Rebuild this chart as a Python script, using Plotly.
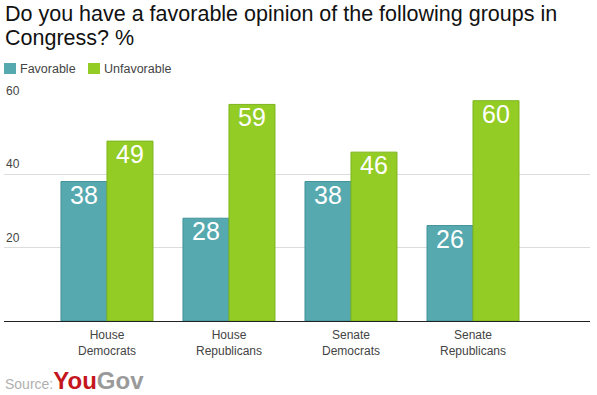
import plotly.graph_objects as go

categories = ["House<br>Democrats", "House<br>Republicans", "Senate<br>Democrats", "Senate<br>Republicans"]
favorable = [38, 28, 38, 26]
unfavorable = [49, 59, 46, 60]
series_names = ["Favorable", "Unfavorable"]
y_ticks = [20, 40, 60]
title_lines = ["Do you have a favorable opinion of the following groups in", "Congress? %"]

teal = "#55A9AF"
green = "#93CC24"
font = "Liberation Sans, Arial, sans-serif"

x = list(range(len(categories)))
bargap = 0.246
half = (1 - bargap) / 4  # centre offset of each bar in a group of two

# plot area geometry in px (for paper-coordinate placement of decorations)
L, R, T, B = 4, 7, 100, 74
W, H = 597, 395
PW, PH = W - L - R, H - T - B


def px(xp):
    return (xp - L) / PW


def py(yp):
    return (H - B - yp) / PH


fig = go.Figure()
fig.add_trace(go.Bar(
    x=x, y=favorable, name=series_names[0], showlegend=False,
    marker=dict(color=teal, line=dict(color="#43939A", width=1)),
))
fig.add_trace(go.Bar(
    x=x, y=unfavorable, name=series_names[1], showlegend=False,
    marker=dict(color=green, line=dict(color="#7DB51C", width=1)),
))

annotations = []
shapes = []
for xi, v in zip(x, favorable):
    annotations.append(dict(x=xi - half, y=v, xref="x", yref="y", text=str(v),
                            showarrow=False, yanchor="top", yshift=3,
                            font=dict(size=25, color="white", family=font)))
for xi, v in zip(x, unfavorable):
    annotations.append(dict(x=xi + half, y=v, xref="x", yref="y", text=str(v),
                            showarrow=False, yanchor="top", yshift=3,
                            font=dict(size=25, color="white", family=font)))
for t in y_ticks:
    annotations.append(dict(
        x=0, xref="paper", y=t, yref="y", text=str(t), showarrow=False,
        xanchor="left", yanchor="bottom", xshift=0, yshift=1,
        font=dict(size=12, color="#444", family=font),
    ))
for i, line in enumerate(title_lines):
    annotations.append(dict(
        x=0, xref="paper", y=1.43 - i * 24 / PH, yref="paper", xanchor="left", yanchor="top",
        showarrow=False, align="left", xshift=-1, yshift=5,
        text=line,
        font=dict(size=21.5, color="#111", family=font),
    ))

# legend (drawn as swatches + labels)
legend_items = [(series_names[0], teal, 4), (series_names[1], green, 88)]
for name, col, x0 in legend_items:
    shapes.append(dict(type="rect", xref="paper", yref="paper",
                       x0=px(x0), x1=px(x0 + 12), y0=py(74), y1=py(63),
                       fillcolor=col, line=dict(width=0)))
    annotations.append(dict(x=px(x0 + 15), y=py(69), xref="paper", yref="paper",
                            xanchor="left", yanchor="middle", showarrow=False,
                            borderpad=0, text=name,
                            font=dict(size=12.5, color="#444", family=font)))

annotations.append(dict(
    x=-0.002, xref="paper", y=-0.271, yref="paper", xanchor="left", yanchor="middle",
    showarrow=False,
    text="<span style='color:#b0b0b0;font-size:14px'>Source:</span>"
         "<b><span style='color:#C4161C;font-size:24px'>You</span>"
         "<span style='color:#9a9a9a;font-size:24px'>Gov</span></b>",
    font=dict(family=font),
))

fig.update_layout(
    width=W, height=H,
    margin=dict(l=L, r=R, t=T, b=B, autoexpand=False),
    paper_bgcolor="white", plot_bgcolor="white",
    barmode="group", bargap=bargap, bargroupgap=0,
    showlegend=False,
    xaxis=dict(
        range=[-0.844, 3.959], tickmode="array", tickvals=x, ticktext=categories,
        showgrid=False, showline=True, linecolor="#222", linewidth=1,
        ticks="", tickfont=dict(size=12, color="#444", family=font),
        ticklabelstandoff=3, automargin=False,
        fixedrange=True,
    ),
    yaxis=dict(
        range=[0, 60.2], tickvals=y_ticks, showticklabels=False,
        showgrid=True, gridcolor="#dcdcdc", gridwidth=1,
        zeroline=False, showline=False, fixedrange=True, automargin=False,
    ),
    annotations=annotations,
    shapes=shapes,
    hovermode=False,
)

fig.write_html("out.html", config={"displayModeBar": False},
               post_script="document.body.style.margin='0';document.body.style.padding='0';")
